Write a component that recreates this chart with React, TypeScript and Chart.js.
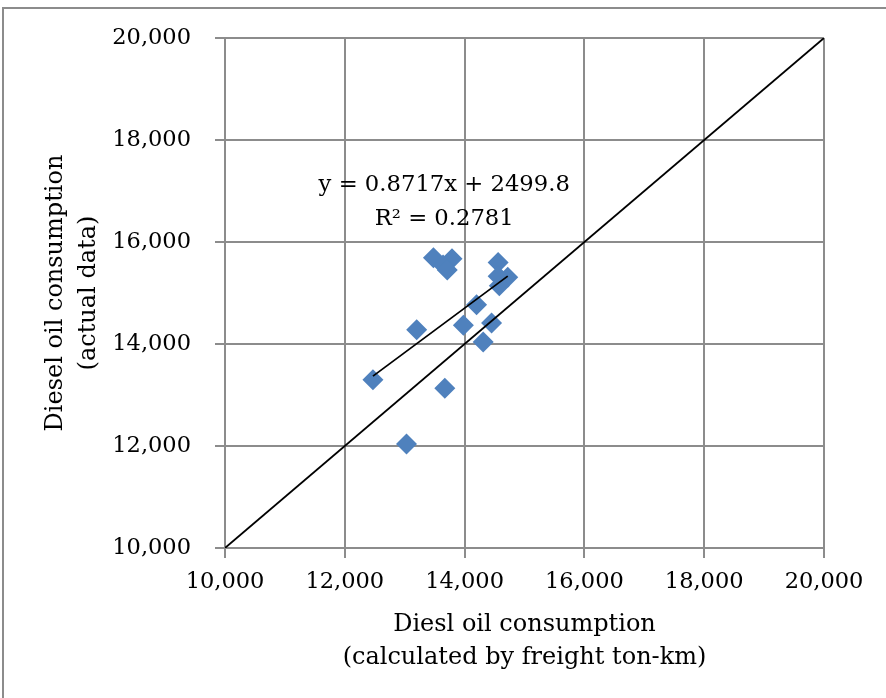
import React, { useEffect, useRef } from "react";
import { Chart, registerables } from "chart.js";

Chart.register(...registerables);

// Observed data: calculated (freight ton-km) vs actual diesel oil consumption
const calcValues = [
  13480, 13790, 13640, 13710, 14560, 14720, 14560, 14580,
  14200, 13980, 14450, 14310, 13200, 12470, 13670, 13030,
];
const actualValues = [
  15690, 15670, 15550, 15450, 15600, 15310, 15330, 15140,
  14770, 14370, 14410, 14040, 14280, 13300, 13130, 12040,
];

// Trend line coefficients (from the chart's label)
const slope = 0.8717;
const intercept = 2499.8;
const trendLabel = ["y = 0.8717x + 2499.8", "R² = 0.2781"];
const trendLabelAnchor = { x: 13660, y: [17120, 16440] };

// Axis settings
const axisMin = 10000;
const axisMax = 20000;
const axisStep = 2000;
const xTitle = ["Diesl oil consumption", "(calculated by freight ton-km)"];
const yTitle = ["Diesel oil consumption", "(actual data)"];

const FONT = "'DejaVu Serif', serif";

export default function App() {
  const ref = useRef<HTMLCanvasElement | null>(null);

  useEffect(() => {
    if (!ref.current) return;
    const xMin = Math.min(...calcValues);
    const xMax = Math.max(...calcValues);
    const points = calcValues.map((x, i) => ({ x, y: actualValues[i] }));

    const frame = {
      id: "frame",
      beforeDraw(chart: any) {
        const ctx = chart.ctx;
        ctx.save();
        ctx.fillStyle = "#ffffff";
        ctx.fillRect(0, 0, chart.width, chart.height);
        ctx.strokeStyle = "#8c8c8c";
        ctx.lineWidth = 2;
        ctx.beginPath();
        ctx.moveTo(3, chart.height);
        ctx.lineTo(3, 8);
        ctx.lineTo(chart.width, 8);
        ctx.stroke();
        ctx.restore();
      },
      afterDatasetsDraw(chart: any) {
        const ctx = chart.ctx;
        const xs = chart.scales.x;
        const ys = chart.scales.y;
        ctx.save();
        ctx.fillStyle = "#000";
        ctx.font = `22.7px ${FONT}`;
        ctx.textAlign = "center";
        ctx.textBaseline = "middle";
        trendLabel.forEach((t, i) => {
          ctx.fillText(
            t,
            xs.getPixelForValue(trendLabelAnchor.x),
            ys.getPixelForValue(trendLabelAnchor.y[i])
          );
        });
        ctx.restore();
      },
    };

    const tickFont = { family: FONT, size: 22.5 };
    const titleFont = { family: FONT, size: 24, lineHeight: 1.375 };

    const chart = new Chart(ref.current, {
      type: "scatter",
      data: {
        datasets: [
          {
            label: "data",
            data: points,
            pointStyle: "rectRot",
            pointRadius: 10.5,
            pointHoverRadius: 10.5,
            backgroundColor: "#4F81BD",
            borderColor: "#4F81BD",
            borderWidth: 0,
            order: 1,
          },
          {
            label: "trend",
            type: "line",
            data: [
              { x: xMin, y: slope * xMin + intercept },
              { x: xMax, y: slope * xMax + intercept },
            ],
            borderColor: "#000",
            borderWidth: 1.8,
            pointRadius: 0,
            fill: false,
            order: 0,
          },
          {
            label: "diag",
            type: "line",
            data: [
              { x: axisMin, y: axisMin },
              { x: axisMax, y: axisMax },
            ],
            borderColor: "#000",
            borderWidth: 1.8,
            pointRadius: 0,
            fill: false,
            order: 0,
          },
        ],
      },
      options: {
        responsive: false,
        animation: false,
        events: [],
        layout: { padding: { top: 38, right: 62, left: 0, bottom: 0 } },
        plugins: {
          legend: { display: false },
          tooltip: { enabled: false },
        },
        scales: {
          x: {
            type: "linear",
            min: axisMin,
            max: axisMax,
            afterFit: (s: any) => {
              s.height = 150;
            },
            ticks: {
              stepSize: axisStep,
              color: "#000",
              font: tickFont,
              padding: 11,
              maxRotation: 0,
              callback: (v: any) => Number(v).toLocaleString("en-US"),
            },
            grid: {
              color: "#8c8c8c",
              lineWidth: 2,
              tickLength: 10,
            },
            border: { color: "#8c8c8c", width: 2 },
            title: {
              display: true,
              text: xTitle,
              color: "#000",
              font: titleFont,
              padding: { top: 10, bottom: 24 },
            },
          },
          y: {
            type: "linear",
            min: axisMin,
            max: axisMax,
            afterFit: (s: any) => {
              s.width = 225;
            },
            ticks: {
              stepSize: axisStep,
              color: "#000",
              font: tickFont,
              padding: 24,
              callback: (v: any) => Number(v).toLocaleString("en-US"),
            },
            grid: {
              color: "#8c8c8c",
              lineWidth: 2,
              tickLength: 10,
            },
            border: { color: "#8c8c8c", width: 2 },
            title: {
              display: true,
              text: yTitle,
              color: "#000",
              font: titleFont,
              padding: { top: 39, bottom: 0 },
            },
          },
        },
      },
      plugins: [frame],
    });
    return () => chart.destroy();
  }, []);

  return (
    <div style={{ position: "absolute", left: 0, top: 0, width: 886, height: 698 }}>
      <canvas ref={ref} width={886} height={698} style={{ display: "block" }} />
    </div>
  );
}
